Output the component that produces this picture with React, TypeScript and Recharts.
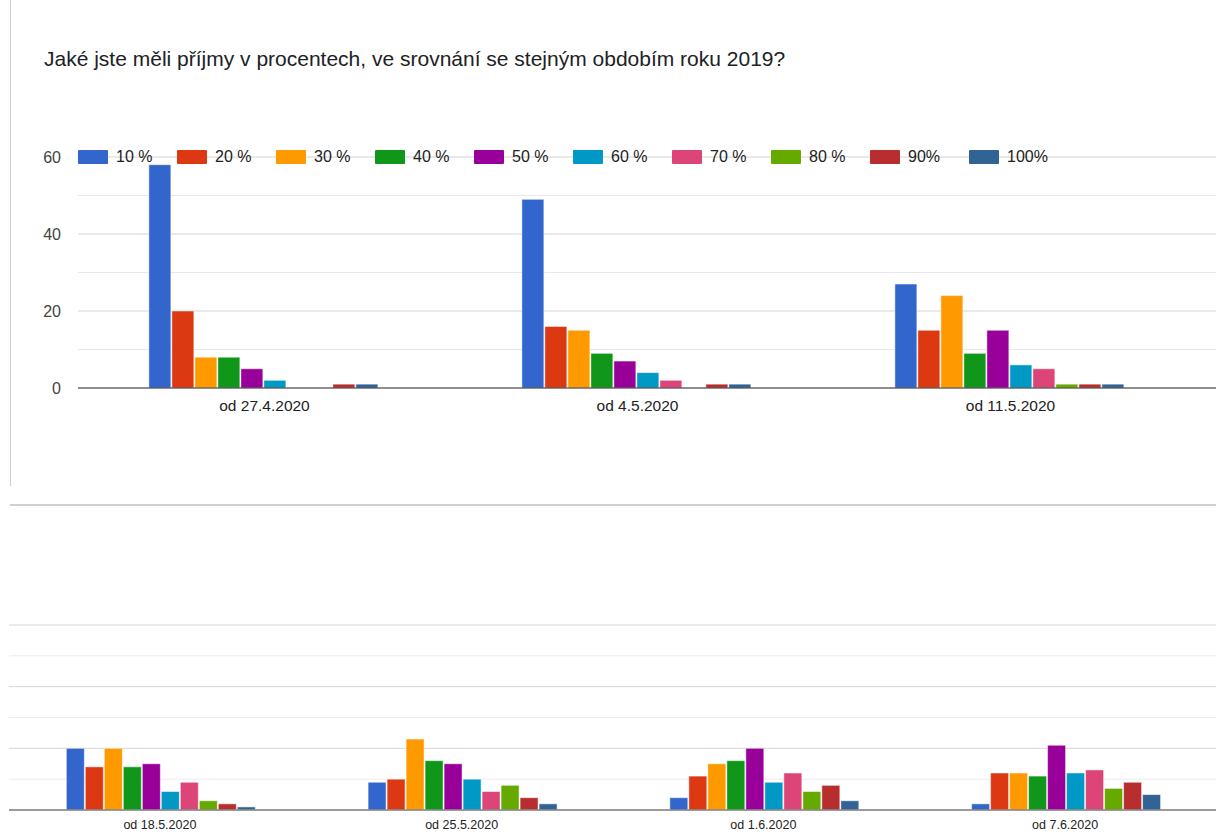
import { Bar, BarChart, CartesianGrid, XAxis, YAxis } from "recharts";

const weeks = [
  "od 27.4.2020",
  "od 4.5.2020",
  "od 11.5.2020",
  "od 18.5.2020",
  "od 25.5.2020",
  "od 1.6.2020",
  "od 7.6.2020",
];

// answers per income bracket, one value per week
const p10 = [58, 49, 27, 20, 9, 4, 2];
const p20 = [20, 16, 15, 14, 10, 11, 12];
const p30 = [8, 15, 24, 20, 23, 15, 12];
const p40 = [8, 9, 9, 14, 16, 16, 11];
const p50 = [5, 7, 15, 15, 15, 20, 21];
const p60 = [2, 4, 6, 6, 10, 9, 12];
const p70 = [0, 2, 5, 9, 6, 12, 13];
const p80 = [0, 0, 1, 3, 8, 6, 7];
const p90 = [1, 1, 1, 2, 4, 8, 9];
const p100 = [1, 1, 1, 1, 2, 3, 5];

const seriesNames = ["10 %", "20 %", "30 %", "40 %", "50 %", "60 %", "70 %", "80 %", "90%", "100%"];
const seriesValues = [p10, p20, p30, p40, p50, p60, p70, p80, p90, p100];
const seriesColors = [
  "#3366cc",
  "#dc3912",
  "#ff9900",
  "#109618",
  "#990099",
  "#0099c6",
  "#dd4477",
  "#66aa00",
  "#b82e2e",
  "#316395",
];

const yTicks = [0, 10, 20, 30, 40, 50, 60];
const labelEvery = 20;

const rows = weeks.map((week, i) => {
  const row: Record<string, string | number> = { week };
  seriesNames.forEach((name, s) => {
    row[name] = seriesValues[s][i];
  });
  return row;
});

const topRows = rows.slice(0, 3);
const bottomRows = rows.slice(3);

const FONT = '"Liberation Sans", Arial, sans-serif';

function Legend() {
  return (
    <div
      style={{
        position: "absolute",
        left: 78,
        top: 149,
        display: "flex",
        fontSize: 16,
        color: "#222",
      }}
    >
      {seriesNames.map((name, i) => (
        <div key={name} style={{ width: 99, display: "flex", alignItems: "center", height: 16 }}>
          <div
            style={{
              width: 30,
              height: 14,
              background: seriesColors[i],
              borderRadius: 1,
              marginRight: 8,
            }}
          />
          <span style={{ lineHeight: "16px" }}>{name}</span>
        </div>
      ))}
    </div>
  );
}

// only every other tick carries a label
function YTick(props: any) {
  const { x, y, payload } = props;
  if (payload.value % labelEvery !== 0) return null;
  return (
    <text x={x} y={y} dy="0.355em" textAnchor="end" fontSize={16} fill="#444">
      {payload.value}
    </text>
  );
}

// minor gridlines lighter than the labelled ones
function gridLine(major: string, minor: string) {
  return (props: any) => {
    const { x1, x2, y1, y2, index } = props;
    const isMajor = index % 2 === 0;
    return (
      <line
        key={`g-${index}`}
        x1={x1}
        x2={x2}
        y1={y1}
        y2={y2}
        stroke={isMajor ? major : minor}
        strokeWidth={1}
      />
    );
  };
}

function bars() {
  return seriesNames.map((name, i) => (
    <Bar
      key={name}
      dataKey={name}
      fill={seriesColors[i]}
      stroke="#ffffff"
      strokeOpacity={0.5}
      strokeWidth={1}
      isAnimationActive={false}
    />
  ));
}

export default function App() {
  return (
    <div
      style={{
        position: "absolute",
        left: 0,
        top: 0,
        width: 1216,
        height: 832,
        background: "#fff",
        overflow: "hidden",
        fontFamily: FONT,
      }}
    >
      <div
        style={{
          position: "absolute",
          left: 10,
          top: 0,
          width: 1,
          height: 486,
          background: "#cfcfcf",
        }}
      />
      <div
        style={{
          position: "absolute",
          left: 44,
          top: 48,
          fontSize: 21,
          lineHeight: "21px",
          color: "#202124",
          whiteSpace: "nowrap",
        }}
      >
        Jaké jste měli příjmy v procentech, ve srovnání se stejným obdobím roku 2019?
      </div>

      <div style={{ position: "absolute", left: 0, top: 0 }}>
        <BarChart
          width={1216}
          height={430}
          data={topRows}
          margin={{ top: 157, right: 0, bottom: 12, left: 0 }}
          barCategoryGap="19%"
          barGap={1}
        >
          <CartesianGrid vertical={false} horizontal={gridLine("#d3d3d3", "#e8e8e8")} />
          <XAxis
            dataKey="week"
            height={30}
            tickLine={false}
            tickSize={0}
            tickMargin={12}
            axisLine={{ stroke: "#333", strokeWidth: 1 }}
            tick={{ fontSize: 15.5, fill: "#222" }}
            padding={{ left: 0, right: 19 }}
          />
          <YAxis
            width={78}
            domain={[0, 60]}
            ticks={yTicks}
            interval={0}
            tickLine={false}
            axisLine={false}
            tickSize={0}
            tickMargin={17}
            tick={<YTick />}
          />
          {bars()}
        </BarChart>
      </div>
      <Legend />

      <div
        style={{
          position: "absolute",
          left: 10,
          top: 504,
          width: 1206,
          height: 2,
          background: "#d0d0d0",
        }}
      />

      <div style={{ position: "absolute", left: 0, top: 600 }}>
        <BarChart
          width={1216}
          height={232}
          data={bottomRows}
          margin={{ top: 25, right: 0, bottom: 0, left: 9 }}
          barCategoryGap="19%"
          barGap={1}
        >
          <CartesianGrid vertical={false} horizontal={gridLine("#d6d6d6", "#ebebeb")} />
          <XAxis
            dataKey="week"
            height={22}
            tickLine={false}
            tickSize={0}
            tickMargin={10}
            axisLine={{ stroke: "#808080", strokeWidth: 1.5 }}
            tick={{ fontSize: 12.5, fill: "#222" }}
          />
          <YAxis hide domain={[0, 60]} ticks={yTicks} interval={0} />
          {bars()}
        </BarChart>
      </div>
    </div>
  );
}
